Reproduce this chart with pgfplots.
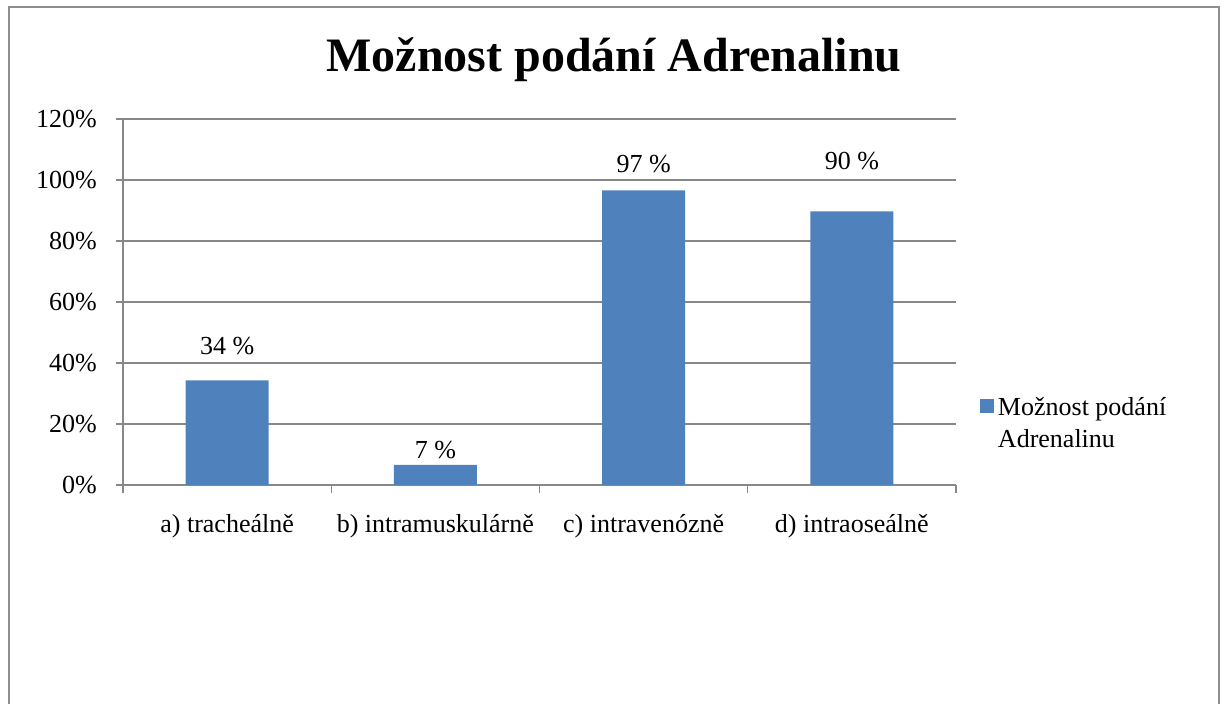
\documentclass[border=0pt]{standalone}
\usepackage{fontspec}
\setmainfont{Liberation Serif}
\usepackage{pgfplots}
\pgfplotsset{compat=1.18}
\definecolor{barblue}{HTML}{4F81BD}
\definecolor{linegray}{HTML}{888888}
\definecolor{framegray}{HTML}{8E8E8E}
\newcommand{\chartfont}{\fontsize{26}{32}\selectfont}
\begin{document}
\begin{tikzpicture}[x=1pt,y=1pt]
\useasboundingbox (0,0) rectangle (1227,704);
\draw[framegray, line width=1.5pt] (9,0) -- (9,697) -- (1219,697) -- (1219,0);
\node[anchor=base, font=\fontsize{48}{56}\selectfont\bfseries, inner sep=0pt] at (614,632.3) {Možnost podání Adrenalinu};
\begin{axis}[
  at={(123pt,219pt)}, anchor=south west,
  scale only axis, width=833pt, height=366pt,
  xmin=0, xmax=4, ymin=0, ymax=120,
  axis lines*=left,
  axis line style={-, linegray, line width=1.3pt},
  tick align=outside,
  major tick length=7pt,
  minor tick length=8pt,
  xtick={0.5,1.5,2.5,3.5},
  xticklabels={a) tracheálně, b) intramuskulárně, c) intravenózně, d) intraoseálně},
  minor xtick={0,1,2,3,4},
  major x tick style={draw=none},
  minor x tick style={linegray, line width=1.3pt},
  ytick={0,20,40,60,80,100,120},
  yticklabels={0\%,20\%,40\%,60\%,80\%,100\%,120\%},
  y tick style={linegray, line width=1.3pt},
  ymajorgrids,
  major grid style={linegray, line width=1.3pt},
  xticklabel style={font=\chartfont, text height=18pt, text depth=6pt, inner sep=0pt, yshift=-22pt},
  yticklabel style={font=\chartfont, inner sep=0pt, xshift=-19pt},
  legend style={at={(1.0288,0.245)}, anchor=north west, draw=none, fill=none,
    inner sep=0pt, outer sep=0pt, font=\chartfont, cells={align=left},
    legend cell align=left},
  legend image code/.code={\path (0pt,17pt) -- (16pt,17pt);\fill[barblue] (0pt,10.5pt) rectangle (14pt,24pt);},
  clip=false,
]
\addplot[ybar, bar width=83pt, fill=barblue, draw=none] coordinates {(0.5,34.3) (1.5,6.6) (2.5,96.6) (3.5,89.7)};
\addlegendentry{Možnost podání\\Adrenalinu}
\addplot[draw=none, mark=none, forget plot, nodes near coords, point meta=explicit symbolic,
  nodes near coords style={anchor=base, font=\chartfont, inner sep=0pt}]
  coordinates {(0.5,42.7) [34 \%] (1.5,8.8) [7 \%] (2.5,102.4) [97 \%] (3.5,103.3) [90 \%]};
\end{axis}
\end{tikzpicture}
\end{document}
